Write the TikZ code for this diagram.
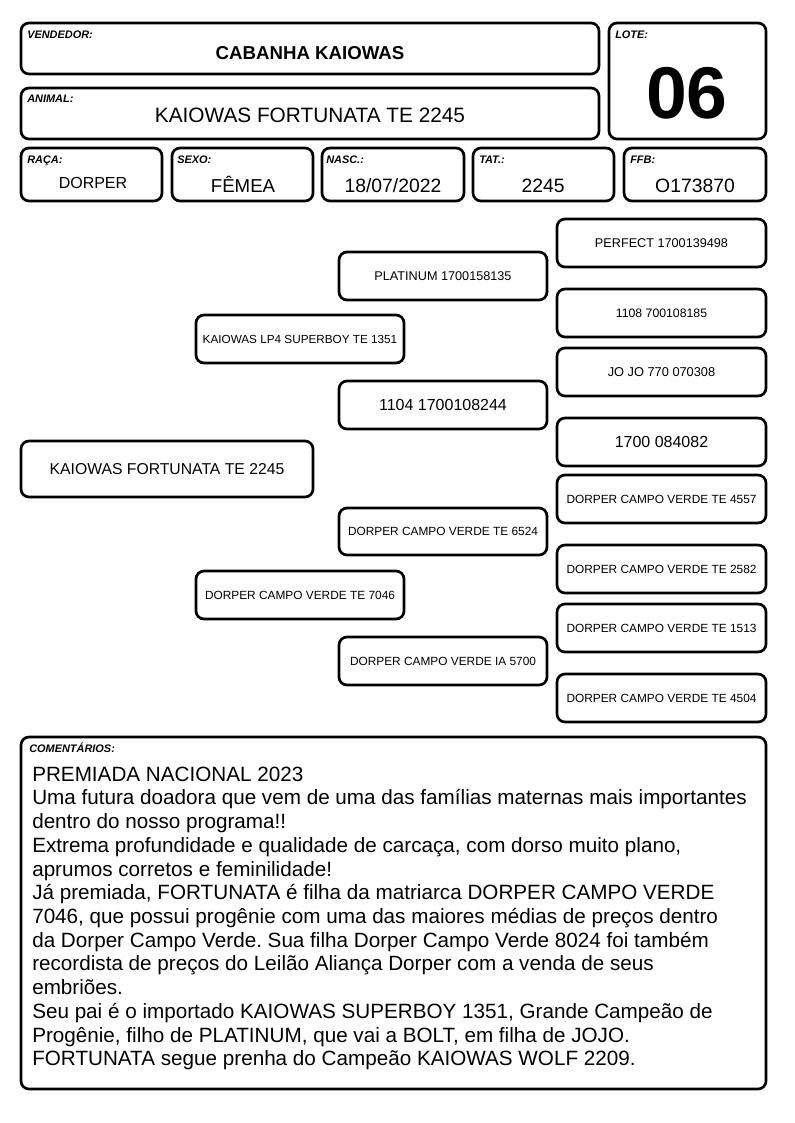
\documentclass[tikz,border=0pt]{standalone}
\usepackage{fontspec}
\setmainfont{Liberation Sans}
\frenchspacing
\tikzset{
  box/.style={draw, line width=2pt, rounded corners=6pt, inner sep=0pt, align=center},
  lbl/.style={anchor=base west, inner sep=0pt, font=\bfseries\itshape\fontsize{8.2}{9}\selectfont},
  val/.style={anchor=base, inner sep=0pt},
}
\newcommand\bx[6]{%
  \node[box, minimum width={(#4-#2)*0.75pt}, minimum height={(#5-#3)*0.75pt}] (#1) at ({(#2+#4)/2},{(#3+#5)/2}) {#6};}
\newcommand\fs[1]{\fontsize{#1}{#1}\selectfont}
\begin{document}
\begin{tikzpicture}[x=0.75pt,y=-0.75pt]
\useasboundingbox (0,0) rectangle (794,1123);
% header
\bx{vend}{21}{23}{599}{74}{}
\node[lbl] (vendl) at (27,39) {VENDEDOR:};
\node[val, font=\bfseries\fs{14}] (vendt) at (310,59.5) {CABANHA KAIOWAS};
\bx{lote}{609}{23}{766}{139}{}
\node[lbl] (lotel) at (615,39) {LOTE:};
\node[val, font=\bfseries\fs{55}] (lotet) at (687,119) {06};
\bx{anim}{21}{88}{599}{139}{}
\node[lbl] (animl) at (27,103) {ANIMAL:};
\node[val, font=\fs{15.6}] (animt) at (310,123) {KAIOWAS FORTUNATA TE 2245};
% row of fields
\bx{raca}{21}{148}{162}{201}{}
\node[lbl] (racal) at (27,163.5) {RAÇA:};
\node[val, font=\fs{12}] (racat) at (93,189) {DORPER};
\bx{sexo}{172}{148}{313}{201}{}
\node[lbl] (sexol) at (177,163.5) {SEXO:};
\node[val, font=\fs{14}] (sexot) at (243,193) {FÊMEA};
\bx{nasc}{322}{148}{464}{201}{}
\node[lbl] (nascl) at (326,163.5) {NASC.:};
\node[val, font=\fs{14.5}] (nasct) at (393,193) {18/07/2022};
\bx{tat}{473}{148}{614}{201}{}
\node[lbl] (tatl) at (479,163.5) {TAT.:};
\node[val, font=\fs{14.5}] (tatt) at (543,193) {2245};
\bx{ffb}{624}{148}{766}{201}{}
\node[lbl] (ffbl) at (630,163.5) {FFB:};
\node[val, font=\fs{14.5}] (ffbt) at (695,193) {O173870};
% pedigree
\bx{perf}{557}{219}{766}{267}{\fs{9.5}PERFECT 1700139498}
\bx{plat}{339}{252}{547}{300}{\fs{9.5}PLATINUM 1700158135}
\bx{lp4}{196}{315}{404}{363}{\fs{8.8}KAIOWAS LP4 SUPERBOY TE 1351}
\bx{b1108}{557}{289}{766}{337}{\fs{9.2}1108 700108185}
\bx{jojo}{557}{348}{766}{396}{\fs{9.6}JO JO 770 070308}
\bx{b1104}{339}{381}{547}{429}{\fs{12}1104 1700108244}
\bx{b1700}{557}{418}{766}{466}{\fs{12}1700 084082}
\bx{fort}{21}{441}{313}{497}{\fs{11.8}KAIOWAS FORTUNATA TE 2245}
\bx{t4557}{557}{475}{766}{523}{\fs{8.9}DORPER CAMPO VERDE TE 4557}
\bx{t6524}{339}{508}{547}{555}{\fs{8.9}DORPER CAMPO VERDE TE 6524}
\bx{t2582}{557}{545}{766}{593}{\fs{8.9}DORPER CAMPO VERDE TE 2582}
\bx{t7046}{196}{571}{404}{619}{\fs{8.9}DORPER CAMPO VERDE TE 7046}
\bx{t1513}{557}{604}{766}{652}{\fs{8.9}DORPER CAMPO VERDE TE 1513}
\bx{i5700}{339}{637}{547}{685}{\fs{8.9}DORPER CAMPO VERDE IA 5700}
\bx{t4504}{557}{674}{766}{722}{\fs{8.9}DORPER CAMPO VERDE TE 4504}
% comments
\bx{com}{21}{737}{766}{1089}{}
\node[lbl] (coml) at (29,752) {COMENTÁRIOS:};
\node[anchor=north west, inner sep=0pt, align=left, font=\fontsize{15.5}{17.8}\selectfont] (comt) at (32,766.4) {%
PREMIADA NACIONAL 2023\\
Uma futura doadora que vem de uma das famílias maternas mais importantes\\
dentro do nosso programa!!\\
Extrema profundidade e qualidade de carcaça, com dorso muito plano,\\
aprumos corretos e feminilidade!\\
Já premiada, FORTUNATA é filha da matriarca DORPER CAMPO VERDE\\
7046, que possui progênie com uma das maiores médias de preços dentro\\
da Dorper Campo Verde. Sua filha Dorper Campo Verde 8024 foi também\\
recordista de preços do Leilão Aliança Dorper com a venda de seus\\
embriões.\\
Seu pai é o importado KAIOWAS SUPERBOY 1351, Grande Campeão de\\
Progênie, filho de PLATINUM, que vai a BOLT, em filha de JOJO.\\
FORTUNATA segue prenha do Campeão KAIOWAS WOLF 2209.};
\end{tikzpicture}
\end{document}
